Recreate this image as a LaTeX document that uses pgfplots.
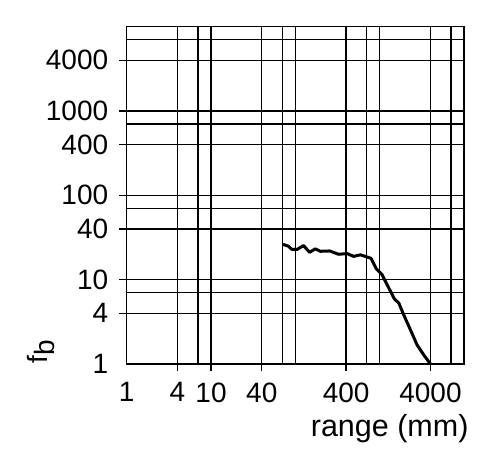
\documentclass[border=0pt]{standalone}
\usepackage{fontspec}
\setmainfont{Liberation Sans}
\usepackage{pgfplots}
\pgfplotsset{compat=1.18}
\begin{document}
\begin{tikzpicture}
% grid lines and the unticked "1" labels
\begin{axis}[
  at={(0,0)}, anchor=south west,
  scale only axis, width=337.3pt, height=337.3pt,
  xmode=log, ymode=log,
  xmin=1, xmax=10000, ymin=1, ymax=10000,
  xtick pos=bottom, ytick pos=left,
  minor tick num=0,
  xminorticks=false, yminorticks=false,
  tick align=outside,
  axis line style={black, line width=1.5pt},
  ticklabel style={font=\fontsize{28}{30}\selectfont},
  /pgf/number format/assume math mode=true,
  xtick={1,4,7,10,40,70,100,400,700,1000,4000,7000},
  xticklabels={1,,,,,,,,,,,},
  ytick={1,4,7,10,40,70,100,400,700,1000,4000,7000},
  yticklabels={1,,,,,,,,,,,},
  grid=major,
  major grid style={black, line width=1.4pt},
  major tick length=0pt,
  xticklabel style={yshift=-15pt},
  yticklabel style={xshift=-15pt},
]
\end{axis}
% ticked labels, curve and axis titles
\begin{axis}[
  at={(0,0)}, anchor=south west,
  scale only axis, width=337.3pt, height=337.3pt,
  xmode=log, ymode=log,
  xmin=1, xmax=10000, ymin=1, ymax=10000,
  xtick pos=bottom, ytick pos=left,
  minor tick num=0,
  xminorticks=false, yminorticks=false,
  tick align=outside,
  axis line style={black, line width=1.5pt},
  ticklabel style={font=\fontsize{28}{30}\selectfont},
  /pgf/number format/assume math mode=true,
  xtick=\empty, ytick=\empty,
  extra x ticks={4,10,40,400,4000},
  extra x tick labels={4,10,40,400,4000},
  extra y ticks={4,10,40,100,400,1000,4000},
  extra y tick labels={4,10,40,100,400,1000,4000},
  extra tick style={grid=major},
  grid=major,
  major grid style={black, line width=1.4pt},
  major tick length=7.5pt,
  every tick/.style={black, line width=1.4pt},
  xticklabel style={yshift=-7.5pt},
  yticklabel style={xshift=-7.5pt},
  xlabel={range (mm)},
  xlabel style={font=\fontsize{30.5}{32}\selectfont, at={(axis description cs:1,0)}, anchor=base east, xshift=8pt, yshift=-72pt},
  ylabel={f\raisebox{-6.5pt}{b}},
  ylabel style={font=\fontsize{28}{30}\selectfont, at={(axis description cs:-0.254,0.0356)}, anchor=center, rotate=0},
]
\addplot[black, line width=3pt, line join=round, line cap=round] coordinates {
(72.4,26.1) (83,24.9) (91,22.8) (104.5,22.8) (125,25.4) (147.5,21.1)
(172,23.2) (198,21.7) (255,21.9) (326,20.0) (410,20.4) (491,18.9)
(590,19.7) (708,18.6) (790,17.9) (914,13.4) (1067,11.5) (1280,8.0)
(1496,5.9) (1683,5.3) (1928,3.83) (2317,2.54) (2780,1.68) (3333,1.28) (4000,1.0)
};
\end{axis}
\pgfresetboundingbox
\path[use as bounding box] (-126.7pt,-101pt) rectangle (373.3pt,364pt);
\end{tikzpicture}
\end{document}
